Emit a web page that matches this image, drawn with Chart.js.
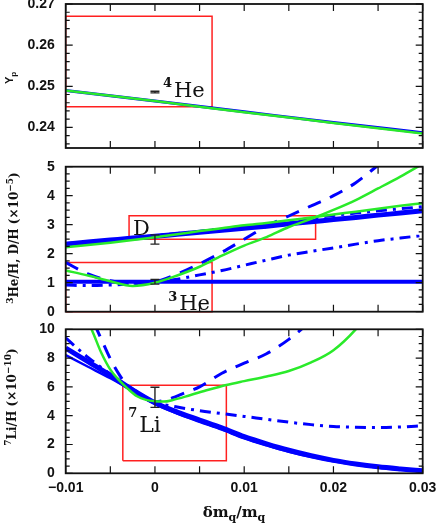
<!DOCTYPE html>
<html>
<head>
<meta charset="utf-8">
<script src="https://cdn.jsdelivr.net/npm/chart.js@4.4.0/dist/chart.umd.min.js"></script>
<style>
  html, body { margin: 0; padding: 0; background: #fff; }
  #wrap { position: relative; width: 437px; height: 525px; }
  #wrap canvas { position: absolute; left: 0; top: 0; }
</style>
</head>
<body>
<div id="wrap">
  <canvas id="c1" width="437" height="525"></canvas>
  <canvas id="c2" width="437" height="525"></canvas>
  <canvas id="c3" width="437" height="525"></canvas>
</div>
<script>
// ----- Data -----
const xTickVals = [-0.01, 0, 0.01, 0.02, 0.03];
const xTickMarks = [-0.01, -0.005, 0, 0.005, 0.01, 0.015, 0.02, 0.025, 0.03];
const yTicksHe4 = [0.24, 0.25, 0.26, 0.27];
const yTicksD = [0, 1, 2, 3, 4, 5];
const yTicksLi = [0, 2, 4, 6, 8, 10];

// top panel: Yp
const xHe4 = [-0.01, 0, 0.01, 0.02, 0.03];
const he4Blue = [0.2490, 0.2464, 0.2438, 0.2412, 0.2387];
const he4Green = [0.2490, 0.2464, 0.2437, 0.2411, 0.2385];

// common x grid for the curves
const xGrid = [-0.01, -0.0075, -0.005, -0.0025, 0, 0.0025, 0.005, 0.0075, 0.01,
               0.0125, 0.015, 0.0175, 0.02, 0.0225, 0.025, 0.0275, 0.03];

// middle panel: D/H and 3He/H (x1e-5)
const dBlue    = [2.33, 2.40, 2.47, 2.54, 2.60, 2.67, 2.74, 2.81, 2.88, 2.95, 3.03, 3.10, 3.18, 3.25, 3.33, 3.40, 3.48];
const dGreen   = [2.22, 2.30, 2.38, 2.47, 2.57, 2.67, 2.78, 2.88, 2.98, 3.06, 3.15, 3.25, 3.35, 3.45, 3.55, 3.65, 3.74];
const dDashDot = [2.35, 2.41, 2.48, 2.55, 2.62, 2.70, 2.77, 2.85, 2.93, 3.02, 3.12, 3.22, 3.32, 3.40, 3.48, 3.55, 3.62];
const xHe3Flat = [-0.01, 0.03];
const he3Flat  = [1.03, 1.03];
const he3Green = [1.42, 1.25, 1.05, 0.89, 1.00, 1.25, 1.55, 1.93, 2.28, 2.57, 2.92, 3.20, 3.51, 3.85, 4.25, 4.66, 5.10];
const he3Dashed = [1.70, 1.30, 1.07, 0.98, 1.03, 1.30, 1.65, 2.05, 2.50, 2.95, 3.30, 3.65, 4.00, 4.45, 5.05];
const he3DashDot = [0.92, 0.90, 0.92, 0.96, 1.02, 1.12, 1.27, 1.42, 1.60, 1.78, 1.95, 2.08, 2.20, 2.33, 2.45, 2.54, 2.63];

// bottom panel: 7Li/H (x1e-10)
const liBand    = [8.70, 7.75, 6.80, 5.80, 4.90, 4.25, 3.70, 3.15, 2.55, 2.05, 1.60, 1.22, 0.90, 0.65, 0.45, 0.30, 0.17];
const liLower   = [8.20, 7.40, 6.60, 5.72, 4.82, 4.15, 3.58, 3.03, 2.43, 1.94, 1.50, 1.14, 0.84, 0.60, 0.41, 0.27, 0.15];
const liDashDot = [9.40, 8.05, 6.90, 5.85, 4.95, 4.60, 4.35, 4.15, 3.95, 3.75, 3.55, 3.38, 3.25, 3.20, 3.18, 3.22, 3.30];
const xLiGreen = [-0.0075, -0.007, -0.006, -0.005, -0.004, -0.003, -0.002, -0.001, 0, 0.001, 0.002,
                  0.004, 0.006, 0.008, 0.01, 0.0125, 0.015, 0.0175, 0.02, 0.0225, 0.023];
const liGreen  = [10.5, 9.85, 8.35, 7.2, 6.45, 5.85, 5.35, 5.1, 5.0, 4.98, 5.09,
                  5.44, 5.8, 6.13, 6.4, 6.72, 7.1, 7.7, 8.55, 10.0, 10.4];
const xLiDashed = [-0.0068, -0.006, -0.005, -0.004, -0.003, -0.002, -0.001, 0, 0.001, 0.002, 0.003,
                   0.005, 0.0075, 0.01, 0.0125, 0.015, 0.0167];
const liDashed  = [10.4, 9.3, 7.95, 6.85, 6.0, 5.45, 5.1, 4.98, 5.05, 5.25, 5.5,
                   6.0, 6.95, 7.65, 8.3, 9.3, 10.15];

// observational values [centre, half error] at x = 0
const obsHe4 = [0.2486, 0.0002];
const obsD   = [2.49, 0.16];
const obsHe3 = [1.03, 0.08];
const obsLi  = [5.28, 0.70];

// allowed regions [xmin, xmax, ymin, ymax]
const boxHe4 = [-0.01, 0.0064, 0.245, 0.267];
const boxD   = [-0.0029, 0.018, 2.50, 3.31];
const boxHe3 = [-0.01, 0.0064, 0, 1.70];
const boxLi  = [-0.0036, 0.008, 0.88, 6.11];

// ----- Styles -----
const BLUE = "#0000ff", GREEN = "#2aea2a", RED = "#ff2020", INK = "#111";
const DASH = [14, 10], DASHDOT = [11, 6, 3, 6];
const TICKFONT = { family: "Liberation Sans", size: 14, weight: "bold" };
const SERIF = "DejaVu Serif";

function line(xs, ys, color, width, dash) {
  return {
    data: xs.map((x, i) => ({ x: x, y: ys[i] })),
    borderColor: color, borderWidth: width, borderDash: dash || [],
    pointRadius: 0, fill: false, cubicInterpolationMode: "monotone", clip: 0
  };
}

function box(b) {
  const [x0, x1, y0, y1] = b;
  return {
    data: [{x: x0, y: y0}, {x: x1, y: y0}, {x: x1, y: y1}, {x: x0, y: y1}, {x: x0, y: y0}],
    borderColor: RED, borderWidth: 1.5, pointRadius: 0, tension: 0, fill: false, clip: 2
  };
}

// text with super/subscripts, drawn piece by piece along one baseline
function drawRich(ctx, parts, x, y, rot, center) {
  ctx.save();
  ctx.translate(x, y);
  if (rot) ctx.rotate(rot);
  let w = 0;
  parts.forEach(p => { ctx.font = p.f; p.w = ctx.measureText(p.t).width + (p.dx || 0); w += p.w; });
  let cx = center ? -w / 2 : 0;
  ctx.fillStyle = INK;
  ctx.textBaseline = "alphabetic";
  ctx.textAlign = "left";
  parts.forEach(p => {
    ctx.font = p.f;
    ctx.fillText(p.t, cx + (p.dx || 0), p.dy || 0);
    cx += p.w;
  });
  ctx.restore();
}

// frame with inward ticks on all four sides
const framePlugin = {
  id: "frame",
  afterDatasetsDraw(chart, args, opts) {
    const { ctx, chartArea: a, scales: { x, y } } = chart;
    ctx.save();
    ctx.strokeStyle = INK;
    ctx.lineWidth = 1.2;
    ctx.beginPath();
    xTickMarks.forEach(v => {
      const px = x.getPixelForValue(v);
      ctx.moveTo(px, a.top); ctx.lineTo(px, a.top + 7);
      ctx.moveTo(px, a.bottom); ctx.lineTo(px, a.bottom - 7);
    });
    for (let v = opts.min; v <= opts.max + 1e-9; v += opts.step) {
      const major = opts.major.some(m => Math.abs(m - v) < 1e-9);
      const len = major ? 7 : 4;
      const py = y.getPixelForValue(v);
      ctx.moveTo(a.left, py); ctx.lineTo(a.left + len, py);
      ctx.moveTo(a.right, py); ctx.lineTo(a.right - len, py);
    }
    ctx.stroke();
    ctx.lineWidth = 1.8;
    ctx.strokeRect(a.left, a.top, a.right - a.left, a.bottom - a.top);
    ctx.restore();
  }
};

// error bars, labels and axis titles
const notesPlugin = {
  id: "notes",
  afterDraw(chart, args, opts) {
    const { ctx, scales: { x, y } } = chart;
    ctx.save();
    ctx.strokeStyle = "#222";
    ctx.lineWidth = 1.4;
    (opts.bars || []).forEach(([v, e]) => {
      const px = x.getPixelForValue(0);
      const y0 = y.getPixelForValue(v - e), y1 = y.getPixelForValue(v + e);
      ctx.beginPath();
      ctx.moveTo(px, y0); ctx.lineTo(px, y1);
      ctx.moveTo(px - 4.5, y0); ctx.lineTo(px + 4.5, y0);
      ctx.moveTo(px - 4.5, y1); ctx.lineTo(px + 4.5, y1);
      ctx.stroke();
    });
    ctx.restore();
    (opts.labels || []).forEach(n => drawRich(ctx, n.parts, x.getPixelForValue(n.x), y.getPixelForValue(n.y), 0, false));
    (opts.titles || []).forEach(n => drawRich(ctx, n.parts, n.at[0], n.at[1], n.rot || 0, true));
  }
};

Chart.register(framePlugin, notesPlugin);

function fmtX(v) {
  if (Math.abs(v) < 1e-12) return "0";
  return (v < 0 ? "\u2212" : "") + Math.abs(v).toFixed(2);
}

function makeChart(id, cfg) {
  const showX = !!cfg.showX;
  return new Chart(document.getElementById(id), {
    type: "line",
    data: { datasets: cfg.datasets },
    options: {
      responsive: false,
      animation: false,
      events: [],
      layout: { padding: { left: 0, right: 14.3, top: cfg.top, bottom: cfg.bottom } },
      plugins: {
        legend: { display: false },
        tooltip: { enabled: false },
        frame: cfg.frame,
        notes: cfg.notes
      },
      scales: {
        x: {
          type: "linear", min: -0.01, max: 0.03,
          display: showX,
          grid: { display: false, drawTicks: false }, border: { display: false },
          ticks: { font: TICKFONT, color: INK, padding: 6, maxRotation: 0, callback: v => fmtX(v) },
          afterBuildTicks: s => { s.ticks = xTickVals.map(v => ({ value: v })); },
          afterFit: s => {
            s.height = showX ? 30 : 0;
            s.paddingLeft = 0; s.paddingRight = 0;
          }
        },
        y: {
          type: "linear", min: cfg.yMin, max: cfg.yMax,
          grid: { display: false, drawTicks: false }, border: { display: false },
          ticks: { font: TICKFONT, color: INK, padding: 11, callback: cfg.yFmt },
          afterBuildTicks: s => { s.ticks = cfg.yTicks.map(v => ({ value: v })); },
          afterFit: s => { s.width = 65.7; s.paddingTop = 0; s.paddingBottom = 0; }
        }
      }
    }
  });
}

const SUP = "bold 13px " + SERIF;
const BIG = "21px " + SERIF;

// ----- Top: Yp -----
makeChart("c1", {
  top: 4, bottom: 525 - 148,
  yMin: 0.235, yMax: 0.27, yTicks: yTicksHe4, yFmt: v => v.toFixed(2),
  frame: { min: 0.236, max: 0.27, step: 0.002, major: yTicksHe4 },
  datasets: [
    line(xHe4, he4Green, GREEN, 2.5),
    line(xHe4, he4Blue, BLUE, 3),
    box(boxHe4)
  ],
  notes: {
    bars: [obsHe4],
    labels: [{ x: 0.0009, y: 0.2474, parts: [{ t: "4", f: SUP, dy: -10 }, { t: "He", f: BIG, dx: 2 }] }],
    titles: [{ at: [12.5, 78], rot: -Math.PI / 2, parts: [
      { t: "Y", f: "bold 11px Liberation Sans" }, { t: "p", f: "bold 8px Liberation Sans", dy: 3 }] }]
  }
});

// ----- Middle: 3He/H, D/H -----
makeChart("c2", {
  top: 166.7, bottom: 525 - 311.7,
  yMin: 0, yMax: 5, yTicks: yTicksD, yFmt: v => String(v),
  frame: { min: 0, max: 5, step: 0.25, major: yTicksD },
  datasets: [
    line(xGrid, dGreen, GREEN, 2.5),
    line(xGrid, he3Green, GREEN, 2.5),
    line(xGrid.slice(0, he3Dashed.length), he3Dashed, BLUE, 3, DASH),
    line(xGrid, dDashDot, BLUE, 3, DASHDOT),
    line(xGrid, he3DashDot, BLUE, 3, DASHDOT),
    line(xGrid, dBlue, BLUE, 5),
    line(xHe3Flat, he3Flat, BLUE, 4),
    box(boxD),
    box(boxHe3)
  ],
  notes: {
    bars: [obsD, obsHe3],
    labels: [
      { x: -0.00246, y: 2.645, parts: [{ t: "D", f: BIG }] },
      { x: 0.00148, y: 0.06, parts: [{ t: "3", f: SUP, dy: -9 }, { t: "He", f: BIG, dx: 2 }] }
    ],
    titles: [{ at: [18, 238], rot: -Math.PI / 2, parts: [
      { t: "3", f: "bold 9px " + SERIF, dy: -5 },
      { t: "He/H, D/H (\u00d710", f: "bold 12px " + SERIF },
      { t: "\u22125", f: "bold 9px " + SERIF, dy: -5 },
      { t: ")", f: "bold 12px " + SERIF }] }]
  }
});

// ----- Bottom: 7Li/H -----
makeChart("c3", {
  showX: true,
  top: 329.3, bottom: 525 - 473.3 - 30,
  yMin: 0, yMax: 10, yTicks: yTicksLi, yFmt: v => String(v),
  frame: { min: 0, max: 10, step: 0.5, major: yTicksLi },
  datasets: [
    line(xLiGreen, liGreen, GREEN, 2.5),
    line(xLiDashed, liDashed, BLUE, 3, DASH),
    line(xGrid, liDashDot, BLUE, 3, DASHDOT),
    line(xGrid, liLower, BLUE, 2.5),
    line(xGrid, liBand, BLUE, 5),
    box(boxLi)
  ],
  notes: {
    bars: [obsLi],
    labels: [{ x: -0.003, y: 2.87, parts: [{ t: "7", f: SUP, dy: -15 }, { t: "Li", f: "22px " + SERIF, dx: 2 }] }],
    titles: [
      { at: [16, 397], rot: -Math.PI / 2, parts: [
        { t: "7", f: "bold 9px " + SERIF, dy: -5 },
        { t: "Li/H (\u00d710", f: "bold 12px " + SERIF },
        { t: "\u221210", f: "bold 9px " + SERIF, dy: -5 },
        { t: ")", f: "bold 12px " + SERIF }] },
      { at: [234, 517], parts: [
        { t: "\u03b4m", f: "bold 15px " + SERIF },
        { t: "q", f: "bold 11px " + SERIF, dy: 4 },
        { t: "/m", f: "bold 15px " + SERIF },
        { t: "q", f: "bold 11px " + SERIF, dy: 4 }] }
    ]
  }
});
</script>
</body>
</html>
